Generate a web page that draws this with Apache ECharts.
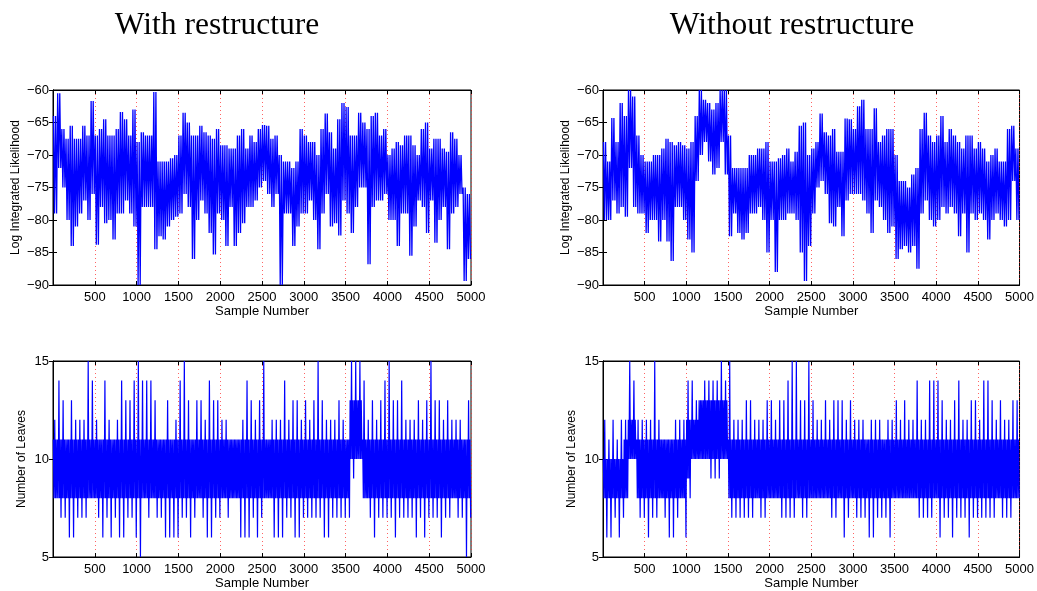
<!DOCTYPE html>
<html>
<head>
<meta charset="utf-8">
<script src="https://cdn.jsdelivr.net/npm/echarts@6/dist/echarts.min.js"></script>
<style>
  html, body { margin: 0; padding: 0; background: #fff; }
  #main { width: 1037px; height: 591px; }
</style>
</head>
<body>
<div id="main"></div>
<script>
// values, one entry per block of 50 samples (100 blocks, 0..5000)
const binSize = 50;

// log integrated likelihood, with restructure: upper / lower edge of the trace per block
const llWithHi = [
  -64, -60.5, -66, -67.5, -65.5, -67.5, -67.5, -65.5, -67, -61.7,
  -67, -66, -64.5, -67, -67, -66, -63.4, -64.5, -67, -63,
  -68, -66.5, -67, -67, -60.3, -71, -71, -71, -70.5, -70,
  -67, -63.5, -65, -67, -67, -65.5, -66.5, -67, -67.5, -66,
  -68.5, -68.5, -69, -69, -67, -66, -69, -67, -68, -66,
  -65.4, -65.5, -67.5, -67, -70, -71, -71, -72, -71, -66,
  -67, -68, -68, -70, -66, -63.6, -66.5, -69, -64.5, -62,
  -62.6, -67, -67, -63.5, -65, -66, -64, -63.5, -67, -66,
  -70, -69, -68, -68.5, -67, -67, -68.5, -70, -66, -65,
  -69, -67.5, -67.5, -69, -69.5, -66.5, -67.5, -70, -75, -76
];
const llWithLo = [
  -79, -72, -75, -80, -84, -81, -79, -77, -80, -76,
  -83.8, -78, -80.5, -80, -83, -79, -79, -77, -79, -81,
  -90, -78, -78, -78, -84.5, -82.5, -83, -81, -80, -79.5,
  -79, -76, -78, -86, -80, -77, -79, -82, -85.3, -79,
  -80, -84, -78, -84, -82, -80.5, -78, -78, -77, -75,
  -74, -76, -78, -76, -90, -79, -79, -84, -81, -79,
  -79, -77, -80, -84.5, -79, -76, -81, -80.5, -82.4, -77,
  -79, -82, -78, -75, -75, -86.8, -78, -77, -77, -76,
  -80, -80, -84, -79, -79, -85.5, -81, -77, -78, -82,
  -77, -83.5, -80, -78, -84.5, -79, -78, -76, -89.4, -86
];

// log integrated likelihood, without restructure
const llWithoutHi = [
  -68, -71, -64.3, -68, -62, -64, -60, -61, -67, -70,
  -71, -71, -70, -70, -69, -67.5, -68, -68.5, -68, -68.5,
  -69, -68, -64, -60, -61.5, -62, -63, -62, -60, -60,
  -67, -72, -72, -72, -72, -70, -70, -69, -69, -68,
  -71, -71, -70.5, -70, -69, -71, -69.5, -65.5, -65, -70,
  -69, -68, -63.6, -66.5, -67, -66, -69.5, -69.5, -64.4, -64.5,
  -66, -62.5, -61.5, -66, -66, -62.8, -68, -67, -66, -66,
  -70, -74, -74, -75, -73, -72, -66, -63.5, -67, -68,
  -67, -64, -68, -66, -67, -68, -69, -67, -67, -69,
  -68, -69, -71, -70, -69, -71, -71, -66, -65.5, -69
];
const llWithoutLo = [
  -80, -80, -77, -79, -78, -79.5, -72, -78, -79, -79,
  -82, -80, -80, -83.3, -80, -83.3, -86.3, -78, -78, -80,
  -83, -85, -74, -70, -68, -71, -73, -72, -68, -73,
  -82.5, -79, -82, -83, -82, -79, -79, -78, -80, -85,
  -80, -88, -80, -80, -79, -79, -80, -85, -89.4, -84,
  -79, -75, -74, -76, -80.5, -81, -78, -82.5, -77, -76,
  -76, -76, -77, -79, -82, -77, -78, -80, -82, -81,
  -86, -84.5, -84, -85, -84, -87.5, -79, -77, -80, -81,
  -80, -78, -79, -78, -79, -82.5, -79, -85, -79, -80,
  -79, -80, -83, -80, -79, -80, -81, -80, -74, -80
];

// number of leaves, with restructure: highest / lowest value, and edges of the dense core band
const leavesWithHi = [
  12, 14, 13, 11, 13, 12, 12, 12, 15, 14,
  12, 11, 14, 12, 11, 12, 14, 13, 13, 14,
  15, 14, 14, 14, 13, 11, 11, 13, 11, 12,
  14, 15, 13, 11, 13, 13, 12, 14, 13, 13,
  12, 12, 11, 11, 11, 12, 14, 13, 12, 13,
  15, 11, 12, 12, 12, 14, 12, 13, 13, 12,
  13, 12, 13, 15, 13, 12, 12, 12, 13, 12,
  11, 15, 15, 15, 14, 12, 13, 12, 13, 14,
  15, 13, 13, 14, 12, 12, 12, 13, 12, 13,
  15, 13, 13, 12, 13, 12, 12, 12, 11, 13
];
const leavesWithLo = [
  8, 7, 7, 6, 6, 7, 7, 7, 8, 8,
  7, 6, 7, 6, 7, 6, 6, 7, 7, 6,
  5, 8, 7, 8, 7, 7, 6, 6, 6, 6,
  7, 7, 6, 7, 8, 7, 6, 6, 7, 7,
  8, 7, 8, 8, 6, 6, 6, 7, 6, 7,
  8, 8, 6, 6, 6, 7, 7, 6, 6, 7,
  7, 7, 7, 7, 6, 6, 7, 7, 7, 7,
  7, 9, 10, 10, 8, 7, 6, 7, 7, 7,
  7, 6, 7, 7, 7, 7, 6, 7, 6, 7,
  7, 7, 6, 7, 7, 8, 7, 7, 5, 7
];
const coreWithHi = [
  11, 11, 11, 11, 11, 11, 11, 11, 11, 11,
  11, 11, 11, 11, 11, 11, 11, 11, 11, 11,
  11, 11, 11, 11, 11, 11, 11, 11, 11, 11,
  11, 11, 11, 11, 11, 11, 11, 11, 11, 11,
  11, 11, 11, 11, 11, 11, 11, 11, 11, 11,
  11, 11, 11, 11, 11, 11, 11, 11, 11, 11,
  11, 11, 11, 11, 11, 11, 11, 11, 11, 11,
  11, 13, 13, 13, 11, 11, 11, 11, 11, 11,
  11, 11, 11, 11, 11, 11, 11, 11, 11, 11,
  11, 11, 11, 11, 11, 11, 11, 11, 11, 11
];
const coreWithLo = [
  8, 8, 8, 8, 8, 8, 8, 8, 8, 8,
  8, 8, 8, 8, 8, 8, 8, 8, 8, 8,
  8, 8, 8, 8, 8, 8, 8, 8, 8, 8,
  8, 8, 8, 8, 8, 8, 8, 8, 8, 8,
  8, 8, 8, 8, 8, 8, 8, 8, 8, 8,
  8, 8, 8, 8, 8, 8, 8, 8, 8, 8,
  8, 8, 8, 8, 8, 8, 8, 8, 8, 8,
  8, 10, 10, 10, 8, 8, 8, 8, 8, 8,
  8, 8, 8, 8, 8, 8, 8, 8, 8, 8,
  8, 8, 8, 8, 8, 8, 8, 8, 8, 8
];

// number of leaves, without restructure
const leavesWithoutHi = [
  12, 11, 12, 11, 12, 12, 15, 14, 12, 12,
  12, 12, 15, 12, 11, 11, 11, 12, 12, 12,
  14, 14, 13, 13, 14, 14, 14, 14, 15, 14,
  15, 12, 12, 12, 13, 13, 12, 12, 12, 13,
  13, 12, 13, 13, 14, 15, 15, 13, 13, 15,
  13, 12, 12, 13, 12, 13, 13, 13, 12, 13,
  12, 12, 12, 11, 12, 12, 12, 11, 12, 12,
  13, 12, 13, 12, 12, 14, 12, 12, 14, 14,
  14, 13, 12, 12, 13, 14, 12, 12, 13, 13,
  12, 14, 14, 13, 12, 13, 12, 12, 13, 13
];
const leavesWithoutLo = [
  6, 6, 7, 6, 7, 8, 10, 10, 7, 7,
  6, 7, 7, 8, 7, 6, 6, 7, 8, 6,
  8, 10, 10, 10, 10, 9, 9, 9, 10, 10,
  7, 7, 7, 7, 7, 7, 8, 7, 7, 8,
  8, 8, 7, 7, 7, 7, 8, 7, 7, 8,
  8, 8, 8, 8, 7, 7, 8, 6, 7, 8,
  7, 7, 7, 6, 6, 7, 7, 7, 6, 8,
  8, 8, 8, 8, 8, 7, 7, 7, 7, 8,
  6, 7, 7, 6, 7, 7, 7, 6, 7, 7,
  7, 7, 7, 7, 8, 7, 7, 7, 8, 8
];
const coreWithoutHi = [
  10, 10, 10, 10, 10, 11, 12, 12, 11, 11,
  11, 11, 11, 11, 11, 11, 11, 11, 11, 11,
  12, 12, 12, 13, 13, 13, 13, 13, 13, 13,
  11, 11, 11, 11, 11, 11, 11, 11, 11, 11,
  11, 11, 11, 11, 11, 11, 11, 11, 11, 11,
  11, 11, 11, 11, 11, 11, 11, 11, 11, 11,
  11, 11, 11, 11, 11, 11, 11, 11, 11, 11,
  11, 11, 11, 11, 11, 11, 11, 11, 11, 11,
  11, 11, 11, 11, 11, 11, 11, 11, 11, 11,
  11, 11, 11, 11, 11, 11, 11, 11, 11, 11
];
const coreWithoutLo = [
  8, 8, 8, 8, 8, 8, 10, 10, 8, 8,
  8, 8, 8, 8, 8, 8, 8, 8, 8, 8,
  9, 10, 10, 10, 10, 10, 10, 10, 10, 10,
  8, 8, 8, 8, 8, 8, 8, 8, 8, 8,
  8, 8, 8, 8, 8, 8, 8, 8, 8, 8,
  8, 8, 8, 8, 8, 8, 8, 8, 8, 8,
  8, 8, 8, 8, 8, 8, 8, 8, 8, 8,
  8, 8, 8, 8, 8, 8, 8, 8, 8, 8,
  8, 8, 8, 8, 8, 8, 8, 8, 8, 8,
  8, 8, 8, 8, 8, 8, 8, 8, 8, 8
];

const xTicks = [500, 1000, 1500, 2000, 2500, 3000, 3500, 4000, 4500, 5000];
const titles = ['With restructure', 'Without restructure'];

// trace through each block, swinging between its top and bottom edge
function llTrace(hi, lo) {
  const pts = [];
  const offs = [6, 18, 31, 43];
  hi.forEach((h, i) => {
    [h, lo[i], h, lo[i]].forEach((v, k) => pts.push([i * binSize + offs[k], v]));
  });
  return pts;
}

// dense core band with excursions up to hi and down to lo
function leavesTrace(hi, lo, cHi, cLo) {
  const pts = [];
  const offs = [4, 12, 21, 29, 37, 46];
  hi.forEach((h, i) => {
    const vals = [cHi[i], cLo[i], h, cLo[i], cHi[i], lo[i]];
    vals.forEach((v, k) => pts.push([i * binSize + offs[k], v]));
  });
  return pts;
}

const font = 'Liberation Sans, Arial, sans-serif';
const minus = v => String(v).replace('-', '\u2212');

const panels = [
  { left: 53,  top: 90,  height: 195, yMin: -90, yMax: -60, name: 'Log Integrated Likelihood', gap: 31,
    data: llTrace(llWithHi, llWithLo) },
  { left: 603, top: 90,  height: 195, yMin: -90, yMax: -60, name: 'Log Integrated Likelihood', gap: 31,
    data: llTrace(llWithoutHi, llWithoutLo) },
  { left: 53,  top: 361, height: 196, yMin: 5, yMax: 15, name: 'Number of Leaves', gap: 25,
    data: leavesTrace(leavesWithHi, leavesWithLo, coreWithHi, coreWithLo) },
  { left: 603, top: 361, height: 196, yMin: 5, yMax: 15, name: 'Number of Leaves', gap: 25,
    data: leavesTrace(leavesWithoutHi, leavesWithoutLo, coreWithoutHi, coreWithoutLo) }
];

const grid = [], xAxis = [], yAxis = [], series = [];
const tick = { show: true, inside: true, length: 4, lineStyle: { color: '#000', width: 1 } };
const line = { show: true, lineStyle: { color: '#000', width: 1 } };

panels.forEach((p, g) => {
  grid.push({ left: p.left, top: p.top, width: 418, height: p.height, show: true,
              borderColor: '#000', borderWidth: 1, backgroundColor: '#fff' });
  xAxis.push({
    type: 'value', gridIndex: g, min: 0, max: 5000, interval: 500, position: 'bottom',
    axisLine: line, axisTick: tick,
    axisLabel: { color: '#000', fontFamily: font, fontSize: 13, margin: 6,
                 formatter: v => (xTicks.includes(v) ? String(v) : '') },
    splitLine: { show: true, lineStyle: { color: '#ff3030', width: 1, type: [1, 3], opacity: 0.75 } },
    name: 'Sample Number', nameLocation: 'middle', nameGap: 20,
    nameTextStyle: { color: '#000', fontFamily: font, fontSize: 13 }
  });
  xAxis.push({
    type: 'value', gridIndex: g, min: 0, max: 5000, interval: 500, position: 'top',
    axisLine: line, axisTick: tick, axisLabel: { show: false }, splitLine: { show: false }
  });
  const yInterval = 5;
  yAxis.push({
    type: 'value', gridIndex: g, min: p.yMin, max: p.yMax, interval: yInterval, position: 'left',
    axisLine: line, axisTick: tick, splitLine: { show: false },
    axisLabel: { color: '#000', fontFamily: font, fontSize: 13, margin: 4, formatter: minus },
    name: p.name, nameLocation: 'middle', nameGap: p.gap, nameRotate: 90,
    nameTextStyle: { color: '#000', fontFamily: font, fontSize: 12 }
  });
  yAxis.push({
    type: 'value', gridIndex: g, min: p.yMin, max: p.yMax, interval: yInterval, position: 'right',
    axisLine: line, axisTick: tick, axisLabel: { show: false }, splitLine: { show: false }
  });
  series.push({
    type: 'line', xAxisIndex: g * 2, yAxisIndex: g * 2, data: p.data,
    showSymbol: false, symbol: 'none', silent: true, clip: true, sampling: false,
    lineStyle: { color: '#0000ff', width: g < 2 ? 1.3 : 1.2 }, z: 3
  });
});

const chart = echarts.init(document.getElementById('main'), null, { renderer: 'canvas' });
chart.setOption({
  animation: false,
  backgroundColor: '#fff',
  grid, xAxis, yAxis, series,
  graphic: [
    { type: 'text', x: 217, y: 26, style: { text: titles[0], fill: '#000', align: 'center',
      verticalAlign: 'middle', font: '31.5px "Liberation Serif", "Times New Roman", serif' } },
    { type: 'text', x: 792, y: 26, style: { text: titles[1], fill: '#000', align: 'center',
      verticalAlign: 'middle', font: '31.5px "Liberation Serif", "Times New Roman", serif' } }
  ]
});
window.addEventListener('resize', () => chart.resize());
</script>
</body>
</html>
